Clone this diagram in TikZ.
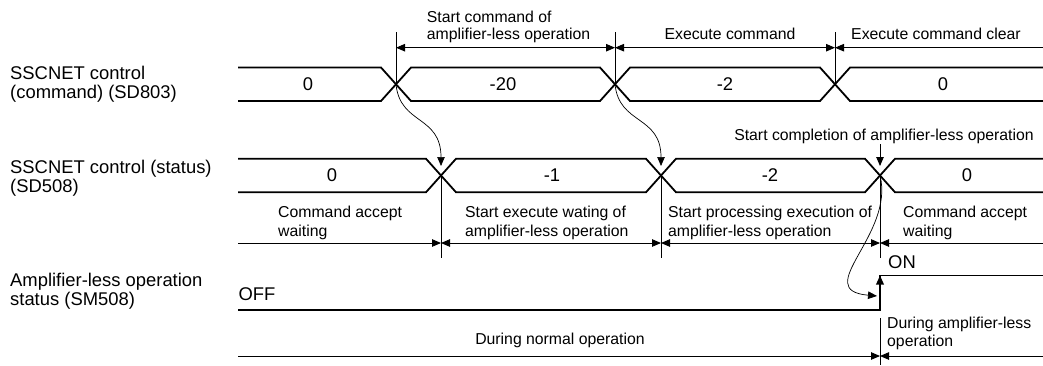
\documentclass[tikz,border=0pt]{standalone}
\usepackage{fontspec}
\setmainfont{Liberation Sans}
\usetikzlibrary{positioning, arrows.meta}

\begin{document}
\begin{tikzpicture}[
  x=1pt, y=-1pt,
  >={Triangle[length=9pt, width=7.5pt]},
  bus/.style={line width=1.8pt},
  guide/.style={line width=0.9pt},
  dim/.style={<->, line width=0.9pt},
  cause/.style={->, line width=0.7pt},
  lbl/.style={font=\fontsize{18.4}{19.5}\selectfont, align=left, inner sep=0pt},
  val/.style={font=\fontsize{18.4}{20}\selectfont, inner sep=0pt},
  note/.style={font=\fontsize{15.8}{19}\selectfont, align=left, inner sep=0pt}
]
  \useasboundingbox (0,0) rectangle (1043,365);

  % Signal names
  \node[lbl, anchor=north west] (cmdlbl) at (10,65.9) {SSCNET control\\(command) (SD803)};
  \node[lbl, anchor=north west] (stslbl) at (10,159.9) {SSCNET control (status)\\(SD508)};
  \node[lbl, anchor=north west] (amplbl) at (10,272.6) {Amplifier-less operation\\status (SM508)};

  % Change points
  \coordinate (cmdA) at (396,84.25);
  \coordinate (cmdB) at (615,84.25);
  \coordinate (cmdC) at (835,84.25);
  \coordinate (stsA) at (441,175.5);
  \coordinate (stsB) at (661,175.5);
  \coordinate (stsC) at (880,175.5);
  \coordinate (topdim) at (0,47.7);
  \coordinate (middim) at (0,243);
  \coordinate (lowdim) at (0,356);

  % Bus rows
  \foreach \yc/\xa/\xb/\xc in {84.25/396/615/835, 175.5/441/661/880}{
    \draw[bus] (238,\yc-16.75) -- (\xa-15,\yc-16.75) -- (\xa+15,\yc+16.75) -- (\xb-15,\yc+16.75)
      -- (\xb+15,\yc-16.75) -- (\xc-15,\yc-16.75) -- (\xc+15,\yc+16.75) -- (1043,\yc+16.75);
    \draw[bus] (238,\yc+16.75) -- (\xa-15,\yc+16.75) -- (\xa+15,\yc-16.75) -- (\xb-15,\yc-16.75)
      -- (\xb+15,\yc+16.75) -- (\xc-15,\yc+16.75) -- (\xc+15,\yc-16.75) -- (1043,\yc-16.75);
  }

  % Values
  \node[val] (cmd0) at (308,84.25) {0};
  \node[val] (cmd1) at (503,84.25) {-20};
  \node[val] (cmd2) at (725,84.25) {-2};
  \node[val] (cmd3) at (943,84.25) {0};
  \node[val] (sts0) at (332,175.5) {0};
  \node[val] (sts1) at (552,175.5) {-1};
  \node[val] (sts2) at (770,175.5) {-2};
  \node[val] (sts3) at (967,175.5) {0};

  % Command phases
  \draw[guide] (cmdA) -- (cmdA |- 0,32);
  \draw[guide] (cmdB) -- (cmdB |- 0,32);
  \draw[guide] (cmdC) -- (cmdC |- 0,32);
  \draw[dim] (cmdA |- topdim) -- (cmdB |- topdim);
  \draw[dim] (cmdB |- topdim) -- (cmdC |- topdim);
  \draw[guide, <-] (cmdC |- topdim) -- (1043,47.7);
  \node[note, anchor=north west, font=\fontsize{15.8}{16.7}\selectfont] (startcmd) at (426.7,11.2)
    {Start command of\\amplifier-less operation};
  \node[note, anchor=base] (execcmd) at (730,39.3) {Execute command};
  \node[note, anchor=base west] (clearcmd) at (851,39.3) {Execute command clear};

  % Command to status
  \draw[cause] (cmdA) .. controls (400,125) and (441,115) .. (441,166);
  \draw[cause] (cmdB) .. controls (619,125) and (661,115) .. (661,166);
  \node[note, anchor=base] (compl) at (884,140.7) {Start completion of amplifier-less operation};
  \draw[guide, ->] (compl.south -| stsC) -- (880,166);

  % Status phases
  \draw[guide] (stsA) -- (stsA |- 0,258);
  \draw[guide] (stsB) -- (stsB |- 0,258);
  \draw[guide] (stsC) -- (stsC |- 0,258);
  \draw[guide, ->] (238,243) -- (stsA |- middim);
  \draw[dim] (stsA |- middim) -- (stsB |- middim);
  \draw[dim] (stsB |- middim) -- (stsC |- middim);
  \draw[guide, <-] (stsC |- middim) -- (1043,243);
  \node[note, anchor=north west] (wait1) at (278,206.2) {Command accept\\waiting};
  \node[note, anchor=north west] (execwait) at (465,206.2) {Start execute wating of\\amplifier-less operation};
  \node[note, anchor=north west] (procexec) at (668,206.2) {Start processing execution of\\amplifier-less operation};
  \node[note, anchor=north west] (wait2) at (903,206.2) {Command accept\\waiting};

  % Amplifier-less status
  \draw[bus] (238,310) -- (880,310) -- (880,275.5) -- (1043,275.5);
  \draw[bus, ->] (880,300) -- (880,275.5);
  \node[val, anchor=base west] (off) at (238.3,300) {OFF};
  \node[val, anchor=base west] (on) at (888,268.3) {ON};
  \draw[cause] (stsC) .. controls (895,235) and (810,290) .. (877,296);

  % Operation periods
  \draw[guide] (880,318) -- (880,365);
  \draw[guide, ->] (238,356) -- (stsC |- lowdim);
  \draw[guide, <-] (stsC |- lowdim) -- (1043,356);
  \node[note, anchor=base] (normal) at (560,344.3) {During normal operation};
  \node[note, anchor=north west, font=\fontsize{15.8}{18.5}\selectfont] (amplop) at (887,316.5)
    {During amplifier-less\\operation};

\end{tikzpicture}
\end{document}
